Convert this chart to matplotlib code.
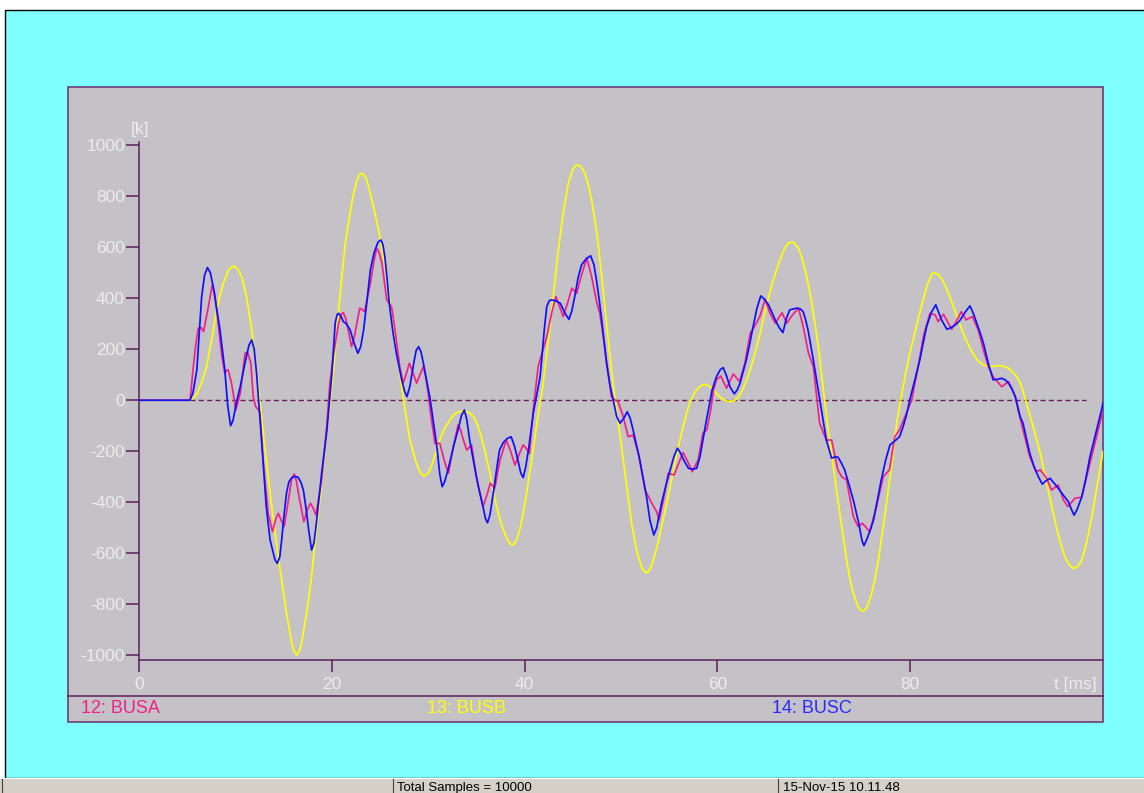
import matplotlib
matplotlib.use("Agg")
import matplotlib.pyplot as plt
from matplotlib.patches import Rectangle
from matplotlib.lines import Line2D

W, H = 1144, 793

# ---------------- data: (t [ms], value [k]) ----------------
busb = [(0, 0), (5.3, 0), (5.7, 10), (6.0, 25), (6.5, 70), (7.0, 130), (7.5, 230), (8.0, 341),
        (8.4, 410), (8.75, 459), (9.3, 511), (9.6, 522), (9.9, 525), (10.2, 515), (10.65, 485),
        (11.15, 406), (11.7, 276), (12.2, 119), (12.7, -64), (13.05, -182), (13.6, -365),
        (14.3, -574), (14.8, -704), (15.3, -834), (15.6, -900), (15.85, -953), (16.1, -985),
        (16.35, -998), (16.6, -985), (16.85, -953), (17.1, -900), (17.4, -834), (17.9, -691),
        (18.4, -508), (18.95, -325), (19.45, -130), (19.8, -20), (20.3, 170), (20.85, 410),
        (21.35, 600), (21.7, 690), (22.2, 800), (22.6, 860), (22.85, 882), (23.1, 890),
        (23.35, 882), (23.6, 865), (24.0, 810), (24.5, 730), (25.0, 640), (25.5, 530),
        (26.0, 400), (26.5, 265), (27.0, 120), (27.5, -15), (28.1, -156), (28.8, -250),
        (29.2, -285), (29.6, -298), (30.0, -285), (30.35, -255), (30.8, -205), (31.2, -156),
        (31.7, -110), (32.25, -77), (32.6, -58), (33.0, -48), (33.65, -41), (34.2, -48),
        (34.7, -64), (35.1, -95), (35.5, -143), (35.95, -210), (36.4, -286), (36.75, -355),
        (37.1, -417), (37.45, -468), (37.8, -508), (38.2, -545), (38.45, -560), (38.7, -568),
        (38.95, -562), (39.2, -545), (39.5, -508), (39.85, -445), (40.2, -365), (40.55, -280),
        (40.9, -190), (41.4, -60), (41.9, 60), (42.45, 230), (43.0, 420), (43.5, 589),
        (44.0, 733), (44.55, 851), (45.05, 909), (45.3, 920), (45.55, 922), (45.85, 915),
        (46.25, 890), (46.6, 845), (46.95, 785), (47.5, 655), (48.0, 485), (48.5, 302),
        (49.0, 119), (49.4, 0), (49.75, -95), (50.05, -182), (50.6, -339), (51.1, -482),
        (51.4, -545), (51.7, -600), (52.1, -650), (52.35, -668), (52.6, -676), (52.85, -672),
        (53.1, -655), (53.35, -626), (53.8, -565), (54.2, -495), (54.65, -420), (55.1, -339),
        (55.5, -262), (55.95, -182), (56.4, -110), (56.8, -51), (57.2, -5), (57.7, 34),
        (58.2, 55), (58.7, 62), (59.15, 55), (59.6, 40), (60.0, 22), (60.4, 8), (60.85, -2),
        (61.3, -6), (61.75, -2), (62.2, 14), (62.6, 40), (63.05, 80), (63.5, 130), (63.9, 184),
        (64.35, 250), (64.75, 315), (65.2, 385), (65.6, 445), (66.0, 495), (66.5, 550),
        (66.85, 585), (67.2, 609), (67.45, 617), (67.7, 620), (67.95, 617), (68.4, 596),
        (68.75, 560), (69.1, 511), (69.45, 450), (69.8, 380), (70.15, 295), (70.5, 200),
        (70.75, 120), (71.0, 40), (71.4, -90), (71.85, -208), (72.35, -352), (72.9, -495),
        (73.4, -626), (73.75, -700), (74.1, -757), (74.6, -810), (74.85, -822), (75.1, -826),
        (75.35, -822), (75.6, -805), (76.0, -757), (76.35, -700), (76.7, -626), (77.05, -535),
        (77.4, -443), (77.75, -345), (78.1, -247), (78.6, -90), (79.0, 0), (79.5, 100),
        (80.0, 190), (80.65, 290), (81.0, 345), (81.4, 400), (81.75, 450), (82.05, 478),
        (82.25, 494), (82.4, 500), (82.6, 498), (82.9, 492), (83.25, 478), (83.65, 448),
        (84.1, 406), (84.55, 360), (85.0, 315), (85.4, 272), (85.8, 236), (86.25, 200),
        (86.7, 171), (87.15, 150), (87.6, 138), (88.0, 133), (88.45, 132), (88.9, 134),
        (89.3, 136), (89.75, 132), (90.2, 125), (90.6, 112), (91.05, 92), (91.4, 68),
        (91.7, 35), (92.2, -30), (92.8, -110), (93.15, -160), (93.5, -208), (94.15, -325),
        (94.85, -443), (95.15, -495), (95.5, -548), (95.85, -592), (96.2, -626), (96.6, -650),
        (97.0, -660), (97.4, -650), (97.8, -626), (98.15, -580), (98.5, -521), (98.85, -455),
        (99.2, -378), (99.6, -290), (100.0, -200)]

busc = [(0, 0), (5.3, 0), (5.6, 30), (6.0, 119), (6.5, 406), (6.8, 490), (7.1, 520), (7.4, 500),
        (7.7, 445), (8.4, 276), (8.9, 119), (9.2, -20), (9.5, -100), (9.75, -80), (10.1, -10),
        (10.5, 53), (11.0, 146), (11.4, 215), (11.7, 236), (11.95, 200), (12.2, 105),
        (12.45, -20), (12.7, -150), (13.2, -417), (13.6, -548), (14.1, -625), (14.35, -639),
        (14.6, -615), (14.8, -548), (15.05, -450), (15.3, -364), (15.55, -320), (15.8, -306),
        (16.15, -298), (16.5, -302), (16.8, -322), (17.05, -352), (17.35, -430), (17.6, -508),
        (17.9, -587), (18.15, -560), (18.4, -482), (18.95, -285), (19.5, -116), (20.0, 100),
        (20.35, 303), (20.55, 335), (20.7, 341), (21.0, 325), (21.2, 308), (21.5, 300),
        (21.9, 276), (22.3, 225), (22.7, 184), (23.0, 210), (23.3, 276), (23.65, 390),
        (24.0, 511), (24.4, 580), (24.8, 620), (25.1, 628), (25.3, 610), (25.5, 563),
        (25.75, 470), (26.0, 367), (26.35, 265), (26.7, 184), (27.25, 80), (27.55, 35),
        (27.8, 14), (28.1, 55), (28.5, 145), (28.75, 195), (29.0, 210), (29.25, 190),
        (29.5, 145), (29.85, 75), (30.2, 5), (30.55, -90), (30.9, -182), (31.2, -290),
        (31.45, -339), (31.7, -320), (32.0, -280), (32.3, -234), (32.7, -170), (33.1, -116),
        (33.45, -60), (33.75, -38), (34.0, -75), (34.3, -156), (34.75, -250), (35.2, -339),
        (35.7, -420), (35.95, -465), (36.15, -480), (36.4, -450), (36.75, -365), (37.1, -270),
        (37.4, -195), (37.8, -165), (38.2, -150), (38.6, -143), (38.95, -180), (39.3, -234),
        (39.6, -285), (39.85, -303), (40.1, -265), (40.4, -195), (40.9, -51), (41.3, 30),
        (41.6, 90), (41.8, 171), (42.05, 280), (42.3, 367), (42.55, 390), (42.8, 393),
        (43.2, 390), (43.7, 380), (44.2, 340), (44.6, 317), (44.9, 350), (45.2, 406),
        (45.55, 480), (45.9, 530), (46.4, 555), (46.85, 566), (47.2, 530), (47.5, 459),
        (47.75, 390), (48.0, 315), (48.25, 230), (48.5, 145), (48.85, 60), (49.2, 0),
        (49.55, -64), (49.9, -90), (50.3, -70), (50.65, -45), (50.95, -70), (51.25, -116),
        (51.6, -175), (51.95, -234), (52.3, -305), (52.65, -378), (53.0, -470), (53.4, -528),
        (53.7, -500), (54.2, -404), (54.65, -335), (55.1, -273), (55.5, -220), (55.85, -188),
        (56.15, -205), (56.5, -234), (57.0, -267), (57.4, -270), (57.85, -267), (58.2, -220),
        (58.5, -156), (58.85, -80), (59.2, -12), (59.45, 40), (59.9, 92), (60.3, 120),
        (60.6, 128), (60.95, 95), (61.3, 53), (61.75, 25), (62.05, 40), (62.35, 67),
        (63.0, 158), (63.35, 220), (63.7, 288), (64.1, 360), (64.5, 409), (64.9, 395),
        (65.3, 374), (66.0, 315), (66.4, 285), (66.8, 265), (67.15, 320), (67.5, 354),
        (68.2, 361), (68.6, 358), (68.9, 347), (69.15, 315), (69.4, 276), (69.95, 158),
        (70.5, 30), (70.8, -40), (71.3, -156), (71.85, -227), (72.2, -222), (72.5, -223),
        (72.85, -245), (73.2, -273), (73.65, -330), (74.1, -391), (74.65, -480), (75.0, -550),
        (75.2, -570), (75.5, -545), (75.85, -510), (76.2, -469), (76.6, -390), (77.0, -312),
        (77.45, -235), (77.9, -175), (78.4, -160), (78.9, -143), (79.25, -105), (79.6, -60),
        (79.95, 0), (80.3, 53), (80.65, 105), (81.0, 158), (81.35, 225), (81.7, 288),
        (82.2, 345), (82.65, 374), (82.95, 345), (83.25, 315), (83.8, 278), (84.15, 283),
        (84.5, 291), (84.85, 300), (85.2, 315), (85.7, 345), (86.2, 370), (86.55, 340),
        (86.9, 302), (87.25, 265), (87.6, 223), (88.1, 145), (88.6, 80), (89.05, 82),
        (89.5, 86), (89.85, 80), (90.2, 67), (90.55, 45), (90.9, 14), (91.4, -64), (91.7, -90),
        (92.05, -150), (92.4, -208), (92.85, -260), (93.3, -300), (93.7, -329), (94.1, -315),
        (94.5, -306), (95.0, -328), (95.5, -352), (96.0, -378), (96.4, -397), (96.75, -430),
        (97.0, -450), (97.3, -430), (97.8, -378), (98.2, -310), (98.65, -221), (99.25, -130),
        (99.85, -38), (100.0, -10)]

busa = [(0, 0), (5.3, 0), (5.6, 119), (5.9, 220), (6.15, 282), (6.45, 285), (6.7, 269),
        (7.2, 367), (7.6, 452), (7.85, 420), (8.1, 341), (8.6, 171), (8.9, 106), (9.1, 118),
        (9.25, 119), (9.6, 67), (10.05, -38), (10.5, 27), (11.0, 184), (11.25, 190),
        (11.6, 145), (11.85, 14), (12.1, -25), (12.4, -38), (12.55, -51), (12.9, -247),
        (13.4, -443), (13.85, -515), (14.15, -470), (14.45, -443), (14.75, -470), (15.05, -495),
        (15.3, -440), (15.6, -365), (15.85, -305), (16.1, -289), (16.35, -320), (16.6, -378),
        (17.1, -476), (17.45, -430), (17.8, -404), (18.1, -425), (18.35, -450), (18.95, -312),
        (19.5, -90), (19.8, 67), (20.15, 171), (20.7, 302), (21.0, 338), (21.2, 343),
        (21.45, 320), (21.7, 276), (22.05, 210), (22.35, 250), (22.6, 302), (22.9, 361),
        (23.15, 355), (23.4, 347), (24.0, 459), (24.35, 540), (24.65, 596), (24.9, 580),
        (25.2, 537), (25.7, 393), (26.2, 367), (26.55, 276), (27.05, 132), (27.4, 67),
        (27.7, 100), (28.05, 145), (28.4, 110), (28.8, 67), (29.15, 100), (29.5, 132),
        (29.75, 90), (30.0, 27), (30.2, -38), (30.7, -169), (31.2, -169), (31.75, -247),
        (32.1, -286), (32.6, -182), (33.1, -97), (33.35, -115), (33.65, -156), (34.0, -195),
        (34.5, -175), (35.0, -300), (35.7, -417), (36.1, -370), (36.45, -325), (36.9, -345),
        (37.45, -234), (38.1, -156), (38.55, -200), (39.0, -254), (39.4, -215), (39.85, -175),
        (40.2, -190), (40.5, -208), (40.9, -38), (41.25, 80), (41.4, 132), (41.8, 184),
        (42.3, 249), (42.8, 341), (43.25, 406), (43.6, 370), (44.0, 328), (44.45, 380),
        (44.9, 439), (45.4, 419), (45.9, 490), (46.45, 557), (46.95, 485), (47.5, 380),
        (47.8, 341), (48.35, 197), (49.0, 14), (49.4, 0), (49.7, -5), (50.2, -60),
        (50.75, -143), (51.25, -136), (51.8, -208), (52.5, -352), (53.2, -404), (53.7, -437),
        (53.95, -469), (54.4, -391), (54.9, -286), (55.5, -293), (55.95, -250), (56.45, -205),
        (57.0, -247), (57.4, -280), (58.0, -234), (58.5, -129), (58.9, -116), (59.3, -40),
        (59.6, 40), (59.9, 80), (60.35, 95), (60.95, 47), (61.65, 103), (62.3, 73),
        (62.85, 145), (63.4, 263), (63.8, 286), (64.4, 328), (64.95, 396), (65.45, 341),
        (66.0, 302), (66.7, 343), (67.2, 302), (67.7, 330), (68.4, 361), (68.9, 289),
        (69.45, 184), (69.95, 132), (70.3, 14), (70.6, -90), (71.3, -156), (71.85, -156),
        (72.5, -273), (72.9, -300), (73.4, -312), (74.1, -456), (74.6, -495), (75.05, -482),
        (75.8, -515), (76.5, -417), (77.2, -300), (77.85, -273), (78.4, -143), (78.9, -116),
        (79.6, -51), (80.15, 0), (80.7, 106), (81.4, 256), (82.05, 341), (82.6, 334),
        (82.9, 308), (83.45, 337), (84.3, 278), (84.8, 310), (85.3, 347), (85.8, 315),
        (86.45, 328), (87.05, 276), (87.6, 197), (88.1, 132), (88.6, 92), (89.5, 53),
        (90.2, 73), (90.9, 14), (91.2, -38), (91.7, -116), (92.4, -221), (93.05, -280),
        (93.5, -273), (94.15, -306), (94.65, -352), (95.35, -332), (95.9, -391), (96.35, -417),
        (97.1, -384), (97.8, -380), (98.65, -247), (99.85, -64), (100.0, -40)]

series_names = ["12: BUSA", "13: BUSB", "14: BUSC"]
y_ticks = [-1000, -800, -600, -400, -200, 0, 200, 400, 600, 800, 1000]
x_ticks = [0, 20, 40, 60, 80]
zero_line_t = [5.3, 98.2]

# ---------------- styling ----------------
C_PINK = "#f2208a"
C_YEL = "#ffff00"
C_BLUE = "#1010ff"
C_AX = "#5c1f5c"
C_PANEL = "#c4c2c6"
C_CYAN = "#80ffff"
C_TXT = "#ececec"
FONT = "Liberation Sans"


def fx(x):
    return x / W


def fy(y):
    return 1 - y / H


fig = plt.figure(figsize=(W / 100, H / 100), dpi=100, facecolor="white")

# cyan background window
fig.add_artist(Rectangle((fx(5), fy(778)), fx(1200), fy(10) - fy(778),
                         transform=fig.transFigure, facecolor=C_CYAN,
                         edgecolor="black", linewidth=1.0, zorder=0))
# gray panel
fig.add_artist(Rectangle((fx(68), fy(722)), fx(1103 - 68), fy(87) - fy(722),
                         transform=fig.transFigure, facecolor=C_PANEL,
                         edgecolor="#6a3f72", linewidth=1.2, zorder=1))
fig.add_artist(Line2D([fx(68), fx(1103)], [fy(696), fy(696)], transform=fig.transFigure,
                      color=C_AX, linewidth=1.1, zorder=2))

# status bar
fig.add_artist(Rectangle((fx(0), fy(793)), 1, fy(778) - fy(793),
                         transform=fig.transFigure, facecolor="#d4d0c8",
                         edgecolor="none", zorder=1))
fig.add_artist(Line2D([0, 1], [fy(778), fy(778)], transform=fig.transFigure,
                      color="#ffffff", linewidth=0.8, zorder=2))
for xd in (2, 393, 778):
    fig.add_artist(Line2D([fx(xd), fx(xd)], [fy(779), fy(793)], transform=fig.transFigure,
                          color="#404040", linewidth=0.8, zorder=2))
fig.text(fx(397), fy(788), "Total Samples = 10000", fontsize=9.5, family=FONT,
         color="black", va="center", ha="left", zorder=3)
fig.text(fx(783), fy(788), "15-Nov-15 10.11.48", fontsize=9.5, family=FONT,
         color="black", va="center", ha="left", zorder=3)

# axes
ax = fig.add_axes([fx(139), fy(660), fx(1103 - 139), fy(142) - fy(660)], zorder=3)
ax.patch.set_alpha(0)
ax.set_xlim(0, 100)
ax.set_ylim(-1018, 1012)
for s in ("top", "right"):
    ax.spines[s].set_visible(False)
for s in ("left", "bottom"):
    ax.spines[s].set_color(C_AX)
    ax.spines[s].set_linewidth(1.1)


def unzip(pairs):
    return [p[0] for p in pairs], [p[1] for p in pairs]


ax.plot(zero_line_t, [0, 0], color="#6a1f4f", linewidth=1.0, dashes=(3.6, 2.4), zorder=1)
for data, col, z in ((busb, C_YEL, 2), (busa, C_PINK, 3), (busc, C_BLUE, 4)):
    tt, vv = unzip(data)
    ax.plot(tt, vv, color=col, linewidth=1.25, zorder=z, solid_joinstyle="round")

ax.set_yticks(y_ticks)
ax.set_yticklabels([str(v) for v in y_ticks])
ax.set_xticks(x_ticks)
ax.set_xticklabels([str(v) for v in x_ticks])
ax.tick_params(axis="y", direction="out", length=9.4, width=1.1, color=C_AX,
               labelcolor=C_TXT, labelsize=12.5, pad=0.8)
ax.tick_params(axis="x", direction="out", length=8.6, width=1.1, color=C_AX,
               labelcolor=C_TXT, labelsize=12.5, pad=3.5)
for lab in ax.get_xticklabels() + ax.get_yticklabels():
    lab.set_family(FONT)

fig.text(fx(139.5), fy(129.5), "[k]", fontsize=12.5, family=FONT, color=C_TXT,
         ha="center", va="center", zorder=4)
fig.text(fx(1097), fy(684.5), "t [ms]", fontsize=12.5, family=FONT, color=C_TXT,
         ha="right", va="center", zorder=4)

# legend row
for name, col, xl in zip(series_names, [C_PINK, C_YEL, "#2a2aff"], [81, 427, 772]):
    fig.text(fx(xl), fy(708.5), name, fontsize=13, family=FONT, color=col,
             ha="left", va="center", zorder=4)

fig.savefig("out.png", dpi=100, facecolor="white")
